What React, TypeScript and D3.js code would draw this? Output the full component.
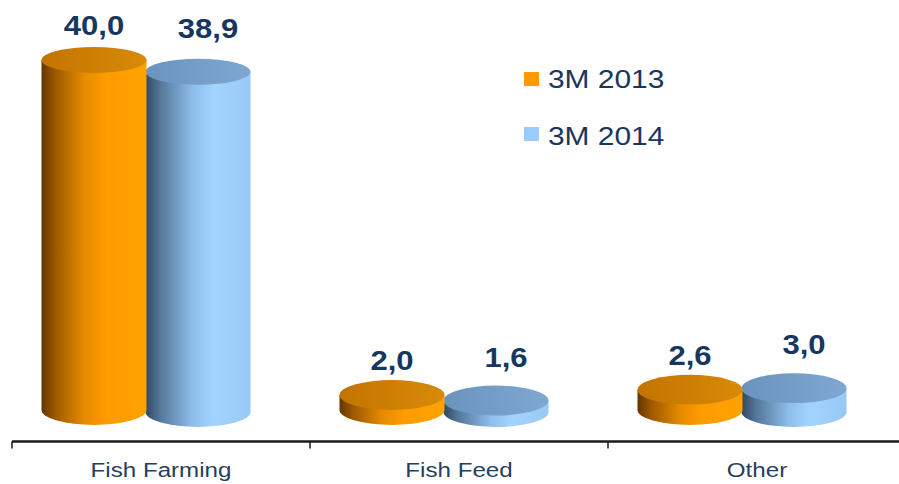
import React from "react";
import * as d3 from "d3";

const categories = ["Fish Farming", "Fish Feed", "Other"];
const seriesNames = ["3M 2013", "3M 2014"];
const values2013 = [40.0, 2.0, 2.6];
const values2014 = [38.9, 1.6, 3.0];
const valueLabels2013 = ["40,0", "2,0", "2,6"];
const valueLabels2014 = ["38,9", "1,6", "3,0"];

const W = 899;
const H = 484;
const AXIS_Y = 441.5;
const SX = 1.15;

const navy = "#17375E";

export default function App() {
  const x0 = d3.scaleBand<string>().domain(categories).range([12, 906]).paddingInner(0).paddingOuter(0);
  const x1 = d3.scaleBand<string>().domain(seriesNames).range([30, 238]);
  const h = d3.scaleLinear().domain([0.3, 40]).range([0, 350]);
  const rx = 52.5;
  const bases = [410, 412];
  const labelOffsets = [25, 34];
  const labelDx = [0, 10];
  const seriesVals = [values2013, values2014];
  const seriesLabels = [valueLabels2013, valueLabels2014];
  const sideGrad = ["gOrangeSide", "gBlueSide"];
  const topGrad = ["gOrangeTop", "gBlueTop"];

  const ryAt = (y: number) => 13 + 2 * ((y - 60) / 350);

  const cyl = (si: number, ci: number) => {
    const v = seriesVals[si][ci];
    const cx = (x0(categories[ci]) as number) + (x1(seriesNames[si]) as number) + x1.bandwidth() / 2;
    const yb = bases[si];
    const yt = yb - h(v);
    const ryb = ryAt(yb);
    const ryt = ryAt(yt);
    const side = `M${cx - rx},${yt} L${cx - rx},${yb} A${rx},${ryb} 0 0 0 ${cx + rx},${yb} L${cx + rx},${yt} Z`;
    return (
      <g key={`c${si}-${ci}`}>
        <path d={side} fill={`url(#${sideGrad[si]})`} />
        <ellipse cx={cx} cy={yt} rx={rx} ry={ryt} fill={`url(#${topGrad[si]})`} />
      </g>
    );
  };

  const label = (si: number, ci: number) => {
    const v = seriesVals[si][ci];
    const cx = (x0(categories[ci]) as number) + (x1(seriesNames[si]) as number) + x1.bandwidth() / 2 + labelDx[si];
    const yt = bases[si] - h(v);
    return (
      <text
        key={`l${si}-${ci}`}
        transform={`translate(${cx},${yt - labelOffsets[si]}) scale(${SX},1)`}
        textAnchor="middle"
        fontFamily="'Liberation Sans', Arial, sans-serif"
        fontWeight="bold"
        fontSize={27}
        fill={navy}
      >
        {seriesLabels[si][ci]}
      </text>
    );
  };

  const ticks = [...categories.map((c) => x0(c) as number), 906];

  return (
    <svg width={W} height={H} style={{ position: "absolute", left: 0, top: 0, background: "#fff" }}>
      <defs>
        <linearGradient id="gOrangeSide" x1="0" x2="1" y1="0" y2="0">
          <stop offset="0%" stopColor="#633500" />
          <stop offset="12%" stopColor="#9A5600" />
          <stop offset="40%" stopColor="#E58A00" />
          <stop offset="62%" stopColor="#FF9C00" />
          <stop offset="100%" stopColor="#FFA200" />
        </linearGradient>
        <linearGradient id="gBlueSide" x1="0" x2="1" y1="0" y2="0">
          <stop offset="0%" stopColor="#2F4863" />
          <stop offset="14%" stopColor="#55779A" />
          <stop offset="45%" stopColor="#8DBDEA" />
          <stop offset="65%" stopColor="#A3D3FF" />
          <stop offset="100%" stopColor="#98C9F5" />
        </linearGradient>
        <linearGradient id="gOrangeTop" x1="0" x2="1" y1="0" y2="0">
          <stop offset="0%" stopColor="#C27400" />
          <stop offset="100%" stopColor="#D88A08" />
        </linearGradient>
        <linearGradient id="gBlueTop" x1="0" x2="1" y1="0" y2="0">
          <stop offset="0%" stopColor="#6A93BE" />
          <stop offset="100%" stopColor="#7EA7D2" />
        </linearGradient>
      </defs>

      {categories.map((_, ci) => cyl(1, ci))}
      {categories.map((_, ci) => cyl(0, ci))}

      {categories.map((_, ci) => label(0, ci))}
      {categories.map((_, ci) => label(1, ci))}

      <line x1={12} x2={W} y1={AXIS_Y} y2={AXIS_Y} stroke="#1a1a1a" strokeWidth={2.5} />
      {ticks.map((t, i) => (
        <line key={i} x1={t} x2={t} y1={AXIS_Y} y2={AXIS_Y + 7} stroke="#1a1a1a" strokeWidth={1.5} />
      ))}

      {categories.map((c) => (
        <text
          key={c}
          transform={`translate(${(x0(c) as number) + x0.bandwidth() / 2},477) scale(${SX},1)`}
          textAnchor="middle"
          fontFamily="'Liberation Sans', Arial, sans-serif"
          fontSize={21}
          fill="#253F5E"
        >
          {c}
        </text>
      ))}

      {seriesNames.map((s, i) => (
        <g key={s}>
          <rect x={524} y={72 + i * 55} width={15} height={14} fill={i === 0 ? "#FF9900" : "#99CCFF"} />
          <text
            transform={`translate(548,${88 + i * 57}) scale(${SX},1)`}
            fontFamily="'Liberation Sans', Arial, sans-serif"
            fontSize={26}
            fill={navy}
          >
            {s}
          </text>
        </g>
      ))}
    </svg>
  );
}
